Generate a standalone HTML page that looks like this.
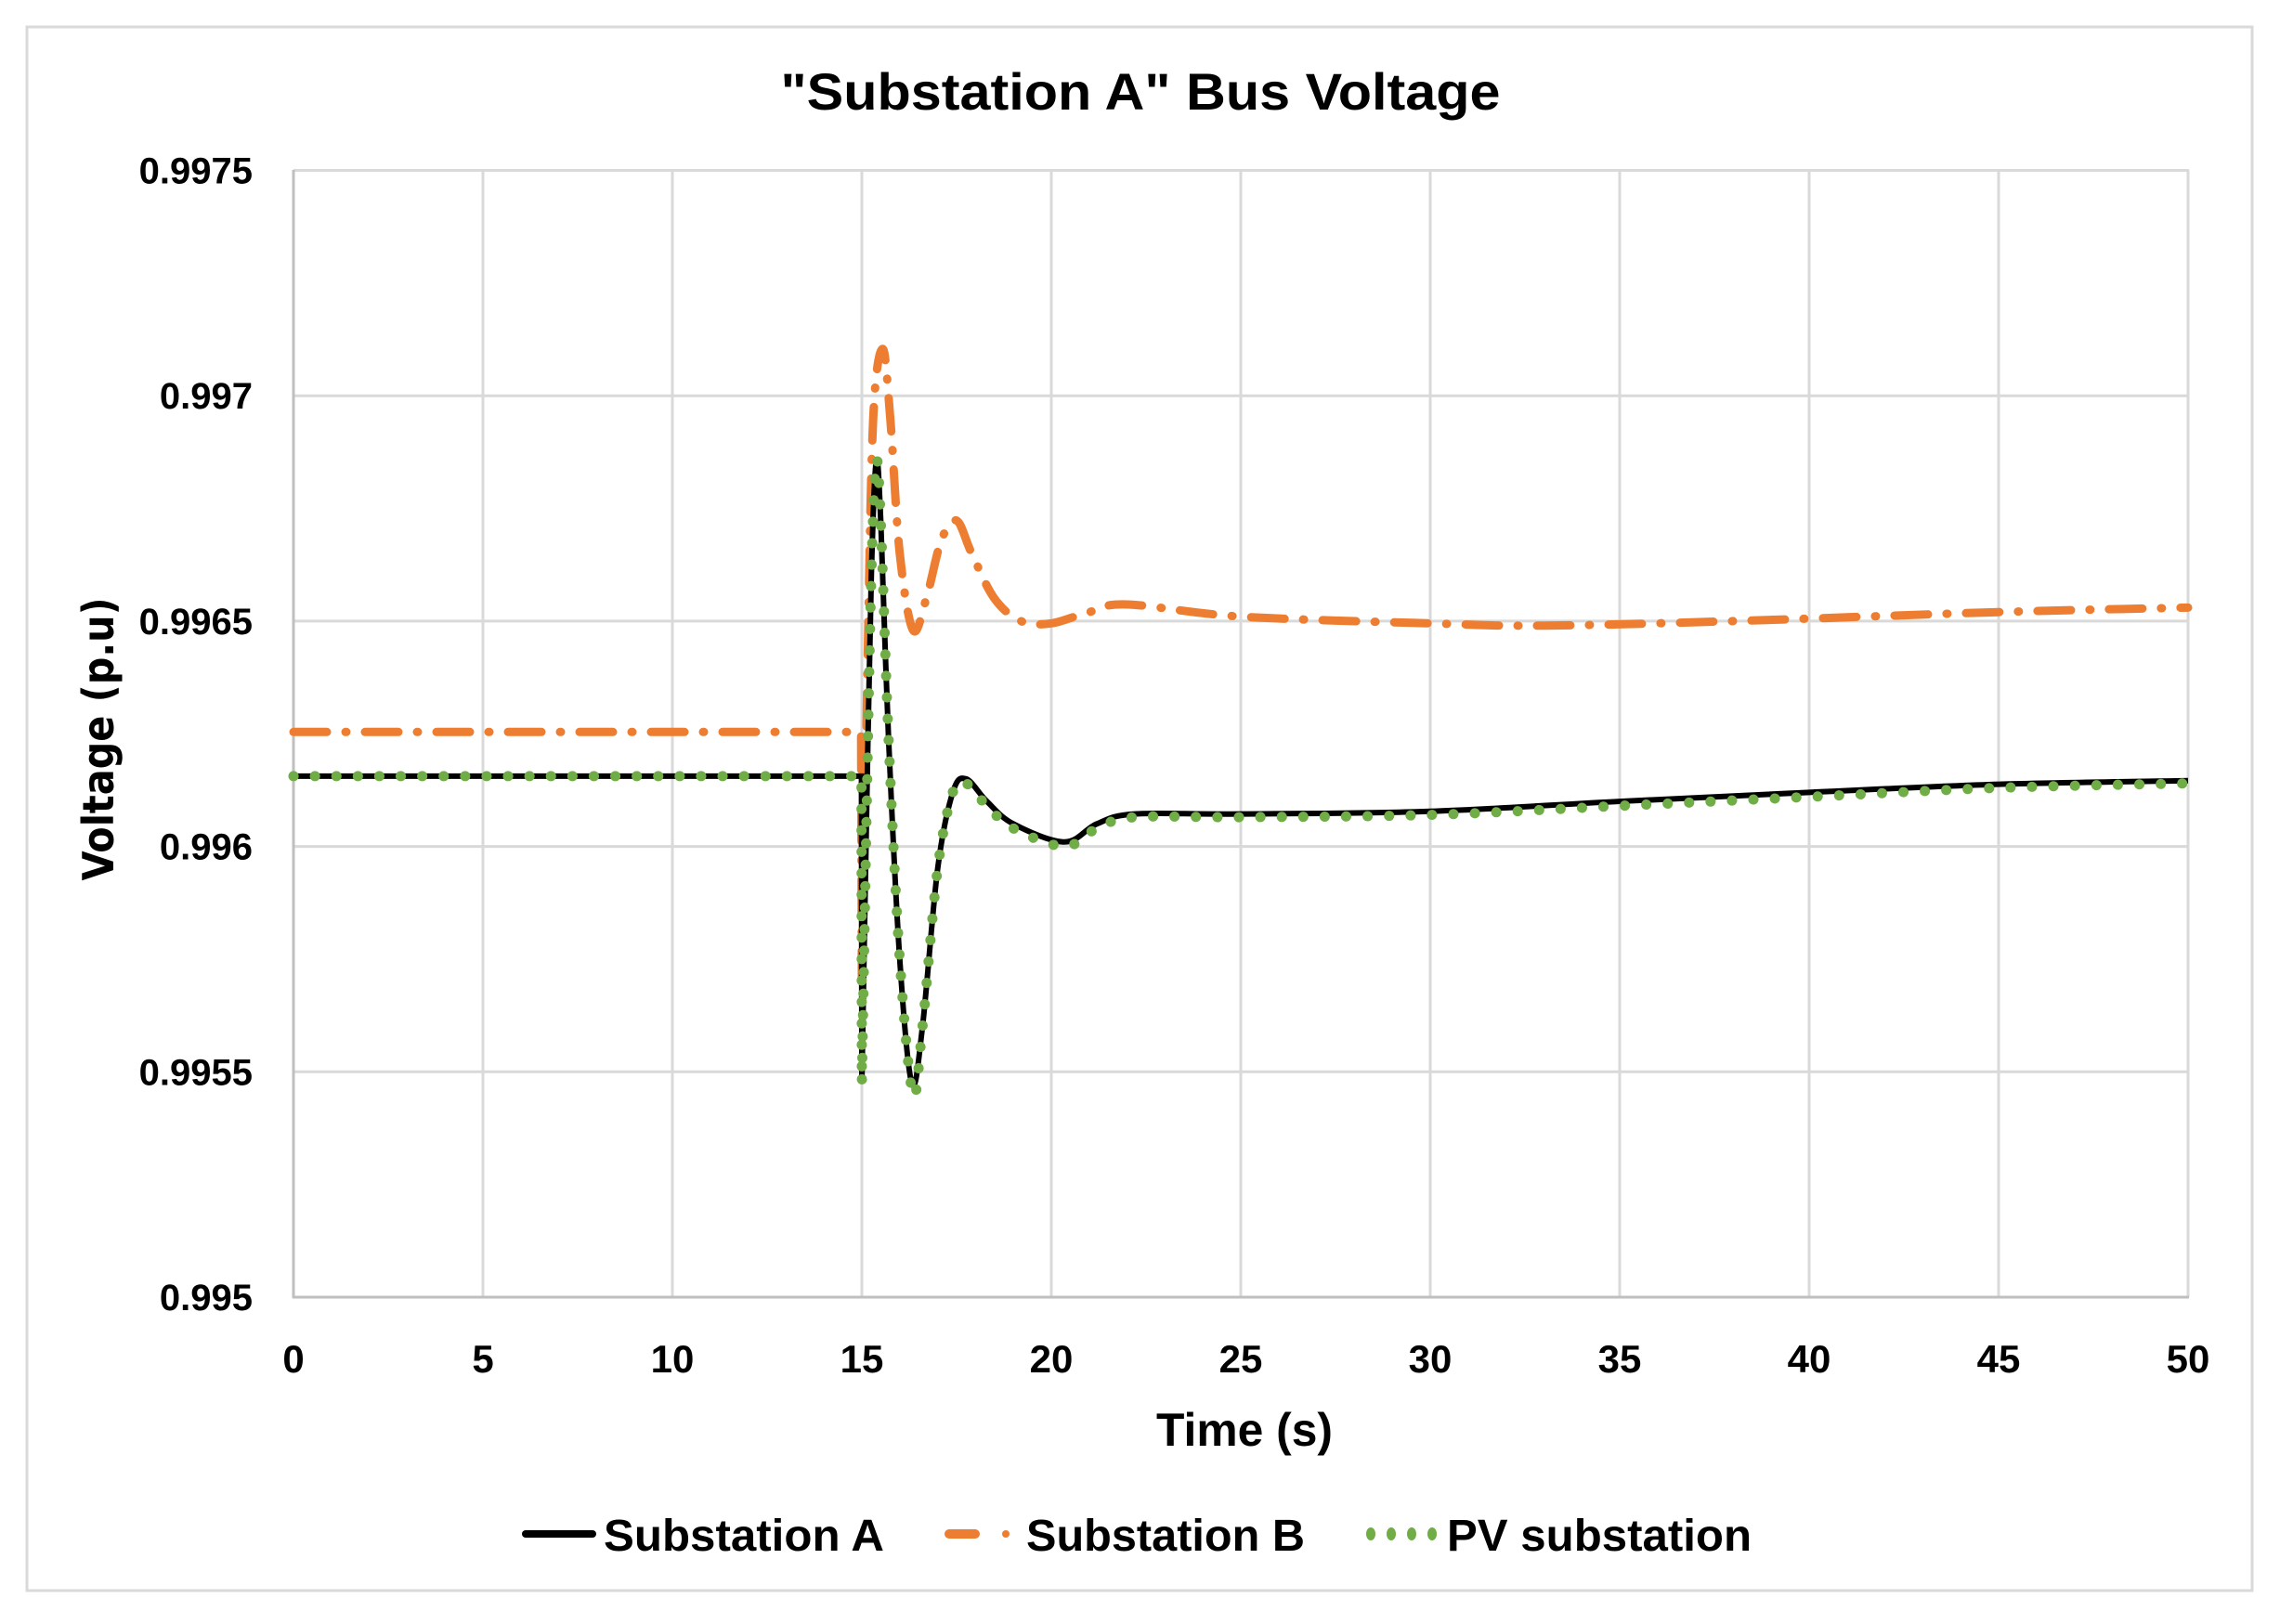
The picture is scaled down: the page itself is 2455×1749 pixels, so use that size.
<!DOCTYPE html>
<html><head><meta charset="utf-8"><style>
html,body{margin:0;padding:0;background:#fff;}
svg{display:block;}
text{font-family:"Liberation Sans",sans-serif;font-weight:bold;fill:#000;}
</style></head><body>
<svg id="s" width="2455" height="1749" viewBox="0 0 2455 1749" xmlns="http://www.w3.org/2000/svg">
<rect x="0" y="0" width="2455" height="1749" fill="#fff"/>
<rect x="29" y="29" width="2396" height="1684" fill="none" stroke="#d9d9d9" stroke-width="3"/>
<text x="1228" y="118" font-size="56" text-anchor="middle" textLength="775" lengthAdjust="spacingAndGlyphs">"Substation A" Bus Voltage</text>
<g id="grid" stroke="#d9d9d9" stroke-width="3"></g>
<line x1="316" y1="183" x2="316" y2="1398" stroke="#bfbfbf" stroke-width="3"/>
<line x1="315" y1="1397" x2="2357" y2="1397" stroke="#bfbfbf" stroke-width="3"/>
<g id="ylab" font-size="40" text-anchor="end"></g>
<g id="xlab" font-size="42" text-anchor="middle"></g>
<text x="1340" y="1557" font-size="50" text-anchor="middle" textLength="190" lengthAdjust="spacingAndGlyphs">Time (s)</text>
<text transform="translate(122,796) rotate(-90)" font-size="46" text-anchor="middle" style="font-family:'DejaVu Sans',sans-serif" textLength="305" lengthAdjust="spacingAndGlyphs">Voltage (p.u)</text>
<g id="series" fill="none"></g>
<line x1="566" y1="1652" x2="638" y2="1652" stroke="#000" stroke-width="8" stroke-linecap="round"/>
<text x="650" y="1670" font-size="48" textLength="302" lengthAdjust="spacingAndGlyphs">Substation A</text>
<line x1="1022" y1="1652" x2="1050" y2="1652" stroke="#ed7d31" stroke-width="10" stroke-linecap="round"/>
<circle cx="1083" cy="1652" r="4" fill="#ed7d31"/>
<text x="1105" y="1670" font-size="48" textLength="300" lengthAdjust="spacingAndGlyphs">Substation B</text>
<g fill="#70ad47"><ellipse cx="1476" cy="1652" rx="5" ry="7"/><ellipse cx="1498" cy="1652" rx="5" ry="7"/><ellipse cx="1520" cy="1652" rx="5" ry="7"/><ellipse cx="1542" cy="1652" rx="5" ry="7"/></g>
<text x="1558" y="1670" font-size="48" textLength="328" lengthAdjust="spacingAndGlyphs">PV substation</text>
</svg>
<script>
var NS="http://www.w3.org/2000/svg";
function X(t){return 316+40.8*t;}
function Y(v){return 183.5+(0.9975-v)*485400;}
function el(tag,attrs,parent,txt){var e=document.createElementNS(NS,tag);for(var k in attrs)e.setAttribute(k,attrs[k]);if(txt!==undefined)e.textContent=txt;parent.appendChild(e);return e;}
var grid=document.getElementById('grid');
for(var i=0;i<5;i++){var y=Y(0.9975-i*0.0005);el('line',{x1:316,y1:y,x2:2357,y2:y},grid);}
for(var t=5;t<=50;t+=5){el('line',{x1:X(t),y1:183,x2:X(t),y2:1397},grid);}
var yl=document.getElementById('ylab');
var ylabels=['0.9975','0.997','0.9965','0.996','0.9955','0.995'];
for(var i=0;i<6;i++){el('text',{x:272,y:Y(0.9975-i*0.0005)+14},yl,ylabels[i]);}
var xl=document.getElementById('xlab');
for(var t=0;t<=50;t+=5){el('text',{x:X(t),y:1478},xl,String(t));}
function cr(pts){
  var p=pts.map(function(a){return [X(a[0]),Y(a[1])];});
  var d="M"+p[0][0]+","+p[0][1];
  for(var i=0;i<p.length-1;i++){
    var p0=p[i-1]||p[i],p1=p[i],p2=p[i+1],p3=p[i+2]||p2;
    var c1=[p1[0]+(p2[0]-p0[0])/6,p1[1]+(p2[1]-p0[1])/6];
    var c2=[p2[0]-(p3[0]-p1[0])/6,p2[1]-(p3[1]-p1[1])/6];
    d+=" C"+c1[0]+","+c1[1]+" "+c2[0]+","+c2[1]+" "+p2[0]+","+p2[1];
  }
  return d;
}
var blackC=[[15.0,0.995474],[15.12,0.99605],[15.25,0.99660],[15.38,0.996854],[15.5,0.99672],[15.7,0.99625],[16.0,0.99575],[16.32,0.995474],[16.6,0.99560],[17.0,0.99595],[17.4,0.99612],[17.75,0.99615],[18.3,0.99610],[19.0,0.99605],[20.35,0.99601],[21.2,0.99605],[22.2,0.996072],[25,0.996072],[30,0.996078],[35,0.99610],[40,0.99612],[45,0.996138],[50,0.996146]];
var greenC=[[15.0,0.995474],[15.12,0.99605],[15.25,0.99660],[15.38,0.996854],[15.5,0.99672],[15.7,0.99625],[16.0,0.99575],[16.35,0.99545],[16.6,0.99560],[17.0,0.99595],[17.4,0.99612],[17.75,0.99614],[18.3,0.99609],[19.0,0.99604],[20.35,0.99600],[21.2,0.99604],[22.2,0.996065],[25,0.996065],[30,0.99607],[35,0.99609],[40,0.99611],[45,0.99613],[50,0.99614]];
var orangeC=[[15.02,0.99570],[15.15,0.99640],[15.3,0.99695],[15.55,0.997104],[15.75,0.99695],[16.0,0.99665],[16.35,0.99648],[16.7,0.99655],[17.1,0.99668],[17.5,0.996723],[17.9,0.99665],[18.5,0.99655],[19.2,0.99650],[20,0.996495],[21,0.99652],[22,0.996537],[25,0.99651],[30,0.996495],[33,0.99649],[38,0.9965],[45,0.99652],[50,0.99653]];
var s=document.getElementById('series');
var flatB="M"+X(0)+","+Y(0.996156)+" L"+X(14.99)+","+Y(0.996156)+" L"+X(15.0)+","+Y(0.995474)+" ";
var flatG=flatB;
var flatO="M"+X(0)+","+Y(0.996254)+" L"+X(14.98)+","+Y(0.996254)+" L"+X(15.0)+","+Y(0.99570)+" ";
el('path',{d:flatO+cr(orangeC).replace(/^M[^ ]+/,''),stroke:'#ed7d31','stroke-width':9,'stroke-dasharray':'36 20 1 20','stroke-linecap':'round'},s);
el('path',{d:flatB+cr(blackC).replace(/^M[^ ]+/,''),stroke:'#000','stroke-width':6},s);
el('path',{d:flatG+cr(greenC).replace(/^M[^ ]+/,''),stroke:'#70ad47','stroke-width':11,'stroke-dasharray':'0.1 23','stroke-linecap':'round'},s);
</script>
</body></html>
